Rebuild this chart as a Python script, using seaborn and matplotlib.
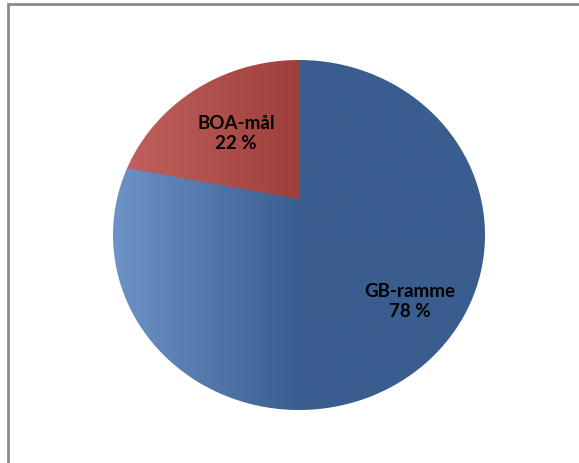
import numpy as np
import matplotlib
matplotlib.use("Agg")
import matplotlib.pyplot as plt
import matplotlib.patches as mpatches
from matplotlib.path import Path
from matplotlib.colors import LinearSegmentedColormap
import seaborn as sns

categories = ["GB-ramme", "BOA-mål"]
values = [78, 22]
labels = ["GB-ramme\n78 %", "BOA-mål\n22 %"]
dark_colors = ["#3A5D8F", "#9E3F3B"]
light_colors = ["#6E93C6", "#C46461"]

sns.set_theme(style="white")
plt.rcParams["font.family"] = ["Lato", "DejaVu Sans"]

W, H = 579, 463
fig = plt.figure(figsize=(W / 100, H / 100), dpi=100)
fig.patch.set_facecolor("white")

# outer frame (left and top visible)
fig.add_artist(mpatches.Rectangle((8 / W, -0.1), 1.2, (H - 4) / H + 0.1,
                                  transform=fig.transFigure, fill=False,
                                  edgecolor="#8A8A8A", linewidth=2))

left, right, top, bottom = 113, 485, 60, 410
ax = fig.add_axes([left / W, (H - bottom) / H, (right - left) / W, (bottom - top) / H])

wedges, _ = ax.pie(values, colors=dark_colors, startangle=90, counterclock=False,
                   radius=1.4, center=(0, 0.206), wedgeprops=dict(linewidth=0))
ax.set_aspect("auto")
ax.set_xlim(-1, 1)
ax.set_ylim(-1, 1)

outline = mpatches.Ellipse((0, 0), 2, 2, transform=ax.transData)
for w in wedges:
    w.set_clip_on(True)
    w.set_clip_path(outline)

# horizontal gradient overlay clipped to each wedge
for w, lc, dc in zip(wedges, light_colors, dark_colors):
    cmap = LinearSegmentedColormap.from_list("g", [lc, dc, dc])
    grad = np.linspace(0, 1, 256).reshape(1, -1)
    im = ax.imshow(grad, cmap=cmap, extent=(-1, 1, -1, 1), aspect="auto", zorder=2)
    im.set_clip_path(w)

# white mask outside the elliptical outline (for the gradient corners)
t = np.linspace(0, 2 * np.pi, 400)
ell = np.column_stack([np.cos(t), np.sin(t)])[::-1]
sq = np.array([[-1.1, -1.1], [1.1, -1.1], [1.1, 1.1], [-1.1, 1.1], [-1.1, -1.1]])
verts = np.vstack([sq, ell, ell[:1]])
codes = ([Path.MOVETO] + [Path.LINETO] * 3 + [Path.CLOSEPOLY]
         + [Path.MOVETO] + [Path.LINETO] * (len(ell) - 1) + [Path.CLOSEPOLY])
ax.add_patch(mpatches.PathPatch(Path(verts, codes), facecolor="white",
                                edgecolor="none", zorder=4))

ax.set_xlim(-1, 1)
ax.set_ylim(-1, 1)
ax.axis("off")

ax.text(0.595, -0.38, labels[0], ha="center", va="center", fontsize=13.5,
        fontweight="bold", color="black", linespacing=1.2, zorder=5)
ax.text(-0.34, 0.58, labels[1], ha="center", va="center", fontsize=13.5,
        fontweight="bold", color="black", linespacing=1.2, zorder=5)

fig.savefig("out.png", dpi=100, facecolor="white")
